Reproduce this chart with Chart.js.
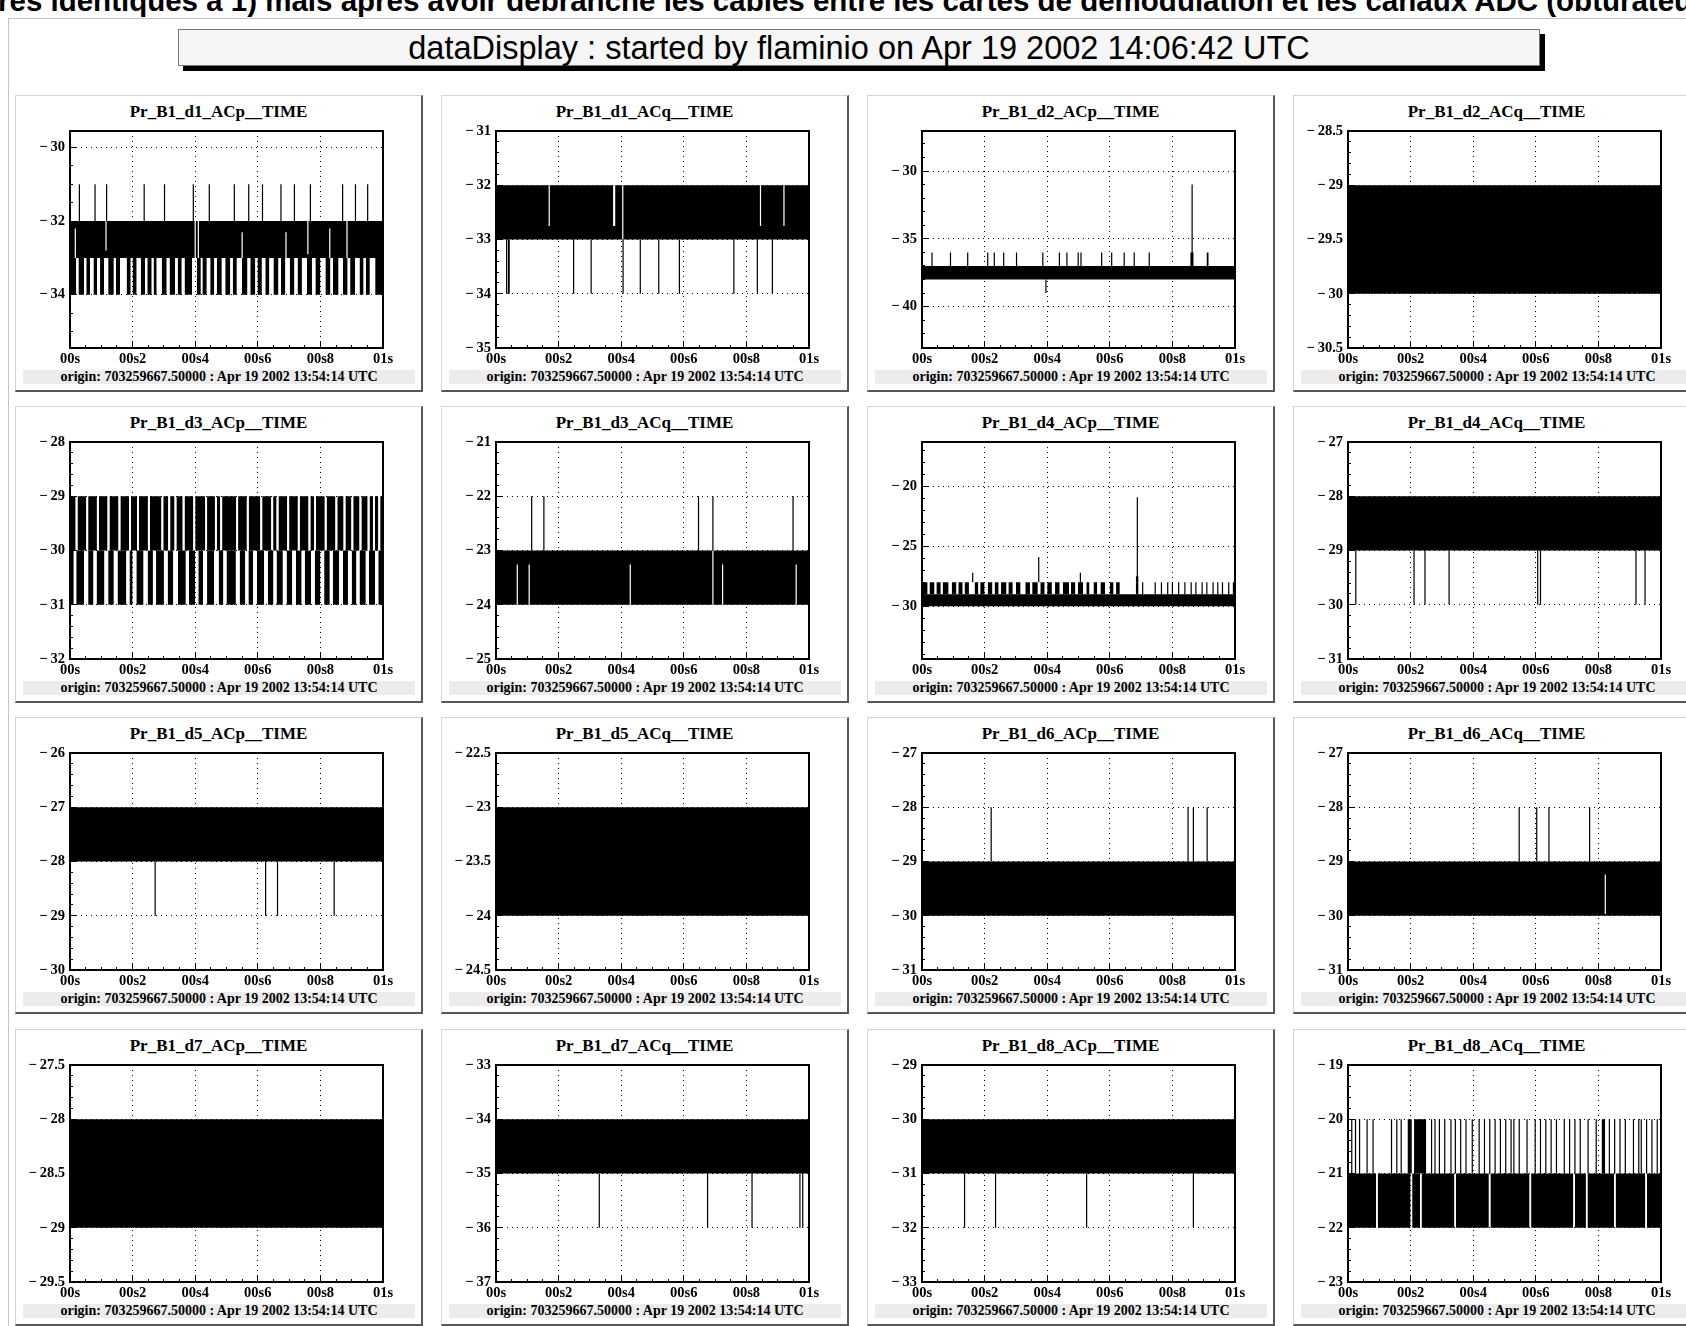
<!DOCTYPE html>
<html><head><meta charset="utf-8">
<script src="https://cdn.jsdelivr.net/npm/chart.js@4.4.1/dist/chart.umd.min.js"></script>
<style>
html,body{margin:0;padding:0;background:#fff;}
#page{position:relative;width:1686px;height:1326px;overflow:hidden;background:#fff;}
#toptext{position:absolute;left:-2px;top:-16px;white-space:nowrap;font:bold 29.5px "Liberation Sans",Arial,sans-serif;color:#000;}
#pageframe{position:absolute;left:8px;top:18px;width:1700px;height:1400px;border-left:1px solid #c4c4c4;border-top:1px solid #c4c4c4;}
#titlebox{position:absolute;left:178px;top:29px;width:1360px;height:35px;border:1px solid #777;background:#f6f6f6;box-shadow:5px 5px 0 #000;font:32.5px "Liberation Sans",Arial,sans-serif;text-align:center;line-height:36px;color:#000;}
.panel{position:absolute;box-sizing:border-box;width:408px;height:297px;border-left:1px solid #d4d4d4;border-top:1px solid #d4d4d4;border-right:2px solid #585858;border-bottom:2px solid #585858;background:#fff;}
.ptitle{position:absolute;left:0;top:6px;width:405px;text-align:center;font:bold 17px "Liberation Serif","Times New Roman",serif;color:#000;}
.panel canvas{position:absolute;left:0;top:29px;}
.footer{position:absolute;left:7px;top:274px;width:392px;height:14px;background:#ececec;font:bold 14px "Liberation Serif","Times New Roman",serif;text-align:center;line-height:14px;color:#000;white-space:nowrap;}
</style>
</head><body>
<div id="page">
  <div id="toptext"></div>
  <div id="pageframe"></div>
  <div id="titlebox"></div>
</div>
<script>
// ---------------- data ----------------
const topLine = 'res identiques à 1) mais après avoir débranché les câbles entre les cartes de démodulation et les canaux ADC (obturateur fermé)';
const headerText = 'dataDisplay : started by flaminio on Apr 19 2002 14:06:42 UTC';
const footerText = 'origin: 703259667.50000 : Apr 19 2002 13:54:14 UTC';

const panelTitles = ['Pr_B1_d1_ACp__TIME','Pr_B1_d1_ACq__TIME','Pr_B1_d2_ACp__TIME','Pr_B1_d2_ACq__TIME',
  'Pr_B1_d3_ACp__TIME','Pr_B1_d3_ACq__TIME','Pr_B1_d4_ACp__TIME','Pr_B1_d4_ACq__TIME',
  'Pr_B1_d5_ACp__TIME','Pr_B1_d5_ACq__TIME','Pr_B1_d6_ACp__TIME','Pr_B1_d6_ACq__TIME',
  'Pr_B1_d7_ACp__TIME','Pr_B1_d7_ACq__TIME','Pr_B1_d8_ACp__TIME','Pr_B1_d8_ACq__TIME'];

const xTickValues = [0, 0.2, 0.4, 0.6, 0.8, 1];
const xTickLabels = ['00s', '00s2', '00s4', '00s6', '00s8', '01s'];
const xMinorStep = 0.05;

const yMins = [-35.45, -35, -43.05, -30.5, -32, -25, -34.4, -31, -30, -24.5, -31, -31, -29.5, -37, -33, -23];
const yMaxs = [-29.55, -31, -27.05, -28.5, -28, -21, -16.3, -27, -26, -22.5, -27, -27, -27.5, -33, -29, -19];
const yMajorTicks = [
  [-34, -32, -30], [-35, -34, -33, -32, -31], [-40, -35, -30], [-30.5, -30, -29.5, -29, -28.5],
  [-32, -31, -30, -29, -28], [-25, -24, -23, -22, -21], [-30, -25, -20], [-31, -30, -29, -28, -27],
  [-30, -29, -28, -27, -26], [-24.5, -24, -23.5, -23, -22.5], [-31, -30, -29, -28, -27], [-31, -30, -29, -28, -27],
  [-29.5, -29, -28.5, -28, -27.5], [-37, -36, -35, -34, -33], [-33, -32, -31, -30, -29], [-23, -22, -21, -20, -19]];
const yMinorSteps = [0.5, 0.2, 1, 0.1, 0.2, 0.2, 1, 0.2, 0.2, 0.1, 0.2, 0.2, 0.1, 0.2, 0.2, 0.2];

// bands: [low, high, [[xStart, xEnd], ...]]  gaps (white) / spikes (black): [x, low, high]
const d1ACp_bands = [[-33, -32, [[0, 1]]],
  [-34, -33, [[0,0.02],[0.027,0.045],[0.052,0.064],[0.075,0.087],[0.096,0.109],[0.122,0.14],[0.147,0.16],[0.181,0.194],[0.2,0.213],[0.226,0.24],[0.247,0.261],[0.267,0.277],[0.293,0.309],[0.318,0.336],[0.344,0.357],[0.366,0.39],[0.405,0.418],[0.423,0.437],[0.448,0.461],[0.469,0.485],[0.496,0.512],[0.52,0.533],[0.549,0.567],[0.576,0.592],[0.599,0.613],[0.624,0.637],[0.65,0.666],[0.674,0.688],[0.702,0.717],[0.727,0.741],[0.757,0.773],[0.784,0.8],[0.816,0.832],[0.84,0.858],[0.872,0.887],[0.895,0.911],[0.925,0.938],[0.945,0.958],[0.975,1]]]];
const d1ACp_gaps = [[0.017,-33,-32.2],[0.115,-32.8,-32],[0.4,-33,-32],[0.41,-33,-32],[0.55,-33,-32.3],[0.69,-33,-32.3],[0.76,-32.9,-32],[0.83,-33,-32.2],[0.885,-33,-32]];
const d1ACp_spikes = [[0.030,-32,-31],[0.080,-32,-31],[0.117,-32,-31],[0.237,-32,-31],[0.302,-32,-31],[0.394,-32,-31],[0.445,-32,-31],[0.525,-32,-31],[0.571,-32,-31],[0.615,-32,-31],[0.674,-32,-31],[0.717,-32,-31],[0.768,-32,-31],[0.871,-32,-31],[0.912,-32,-31],[0.951,-32,-31]];

const d1ACq_bands = [[-33, -32, [[0, 1]]]];
const d1ACq_gaps = [[0.170,-32.75,-32],[0.376,-32.75,-32],[0.379,-32.75,-32],[0.405,-33,-32],[0.845,-32.75,-32],[0.920,-32.75,-32]];
const d1ACq_spikes = [[0.034,-34,-33],[0.040,-34,-33],[0.042,-34,-33],[0.248,-34,-33],[0.304,-34,-33],[0.406,-34,-33],[0.461,-34,-33],[0.520,-34,-33],[0.586,-34,-33],[0.760,-34,-33],[0.835,-34,-33],[0.883,-34,-33]];

const d2ACp_bands = [[-38, -37, [[0, 1]]], [-37, -36, [[0.857, 0.868], [0.909, 0.916]]]];
const d2ACp_gaps = [];
const d2ACp_spikes = [[0.032,-37,-36],[0.091,-37,-36],[0.146,-37,-36],[0.210,-37,-36],[0.231,-37,-36],[0.261,-37,-36],[0.302,-37,-36],[0.386,-37,-36],[0.396,-39,-38],[0.439,-37,-36],[0.463,-37,-36],[0.499,-37,-36],[0.508,-37,-36],[0.574,-37,-36],[0.606,-37,-36],[0.646,-37,-36],[0.678,-37,-36],[0.726,-37,-36],[0.863,-37,-31]];

const d2ACq_bands = [[-30, -29, [[0, 1]]]];
const d2ACq_gaps = [];
const d2ACq_spikes = [];

const d3ACp_bands = [
  [-30, -29, [[0,0.018],[0.024,0.052],[0.058,0.086],[0.092,0.12],[0.126,0.155],[0.161,0.189],[0.195,0.214],[0.22,0.249],[0.255,0.292],[0.298,0.314],[0.32,0.334],[0.34,0.36],[0.366,0.394],[0.4,0.432],[0.438,0.463],[0.469,0.48],[0.486,0.531],[0.537,0.565],[0.571,0.608],[0.614,0.643],[0.649,0.66],[0.666,0.694],[0.7,0.728],[0.734,0.762],[0.768,0.78],[0.786,0.814],[0.82,0.848],[0.854,0.874],[0.88,0.899],[0.905,0.925],[0.931,0.951],[0.957,0.968],[0.974,0.985],[0.991,1]]],
  [-31, -30, [[0,0.012],[0.02,0.045],[0.058,0.075],[0.085,0.11],[0.122,0.14],[0.152,0.18],[0.19,0.2],[0.212,0.235],[0.248,0.265],[0.275,0.3],[0.312,0.33],[0.345,0.37],[0.38,0.4],[0.41,0.425],[0.438,0.46],[0.475,0.49],[0.5,0.53],[0.542,0.56],[0.57,0.585],[0.597,0.62],[0.632,0.65],[0.66,0.68],[0.692,0.71],[0.722,0.74],[0.75,0.77],[0.782,0.8],[0.812,0.83],[0.84,0.86],[0.872,0.888],[0.9,0.915],[0.925,0.945],[0.955,0.975],[0.985,1]]]];
const d3ACp_gaps = [];
const d3ACp_spikes = [];

const d3ACq_bands = [[-24, -23, [[0, 1]]]];
const d3ACq_gaps = [[0.068,-24,-23.26],[0.106,-24,-23.26],[0.429,-24,-23.26],[0.693,-24,-23],[0.724,-24,-23.26],[0.959,-24,-23.26]];
const d3ACq_spikes = [[0.114,-23,-22],[0.153,-23,-22],[0.647,-23,-22],[0.693,-23,-22],[0.949,-23,-22]];

const d4ACp_bands = [[-30, -29, [[0, 1]]],
  [-29, -28, [[0,0.018],[0.024,0.04],[0.046,0.06],[0.066,0.085],[0.095,0.11],[0.116,0.13],[0.136,0.15],[0.168,0.18],[0.186,0.2],[0.21,0.225],[0.232,0.245],[0.252,0.27],[0.276,0.29],[0.3,0.315],[0.33,0.345],[0.352,0.37],[0.378,0.392],[0.4,0.415],[0.425,0.44],[0.45,0.47],[0.476,0.49],[0.498,0.515],[0.525,0.535],[0.548,0.56],[0.57,0.585],[0.6,0.612],[0.62,0.632],[0.683,0.692]]],
  [-28, -27.5, [[0.683, 0.692]]]];
const d4ACp_gaps = [];
const d4ACp_spikes = [[0.162,-28,-27.2],[0.373,-28,-25.9],[0.506,-28,-27.2],[0.688,-28,-20.9],
  [0.705,-29,-28],[0.745,-29,-28],[0.765,-29,-28],[0.785,-29,-28],[0.8,-29,-28],[0.82,-29,-28],[0.84,-29,-28],[0.86,-29,-28],[0.875,-29,-28],[0.895,-29,-28],[0.91,-29,-28],[0.93,-29,-28],[0.945,-29,-28],[0.96,-29,-28],[0.98,-29,-28],[0.995,-29,-28]];

const d4ACq_bands = [[-29, -28, [[0, 1]]]];
const d4ACq_gaps = [];
const d4ACq_spikes = [[0.025,-30,-29],[0.211,-30,-29],[0.246,-30,-29],[0.323,-30,-29],[0.606,-30,-29],[0.615,-30,-29],[0.920,-30,-29],[0.949,-30,-29]];

const d5ACp_bands = [[-28, -27, [[0, 1]]]];
const d5ACp_gaps = [];
const d5ACp_spikes = [[0.272,-29,-28],[0.625,-29,-28],[0.663,-29,-28],[0.844,-29,-28]];

const d5ACq_bands = [[-24, -23, [[0, 1]]]];
const d5ACq_gaps = [];
const d5ACq_spikes = [];

const d6ACp_bands = [[-30, -29, [[0, 1]]]];
const d6ACp_gaps = [];
const d6ACp_spikes = [[0.221,-29,-28],[0.850,-29,-28],[0.867,-29,-28],[0.911,-29,-28]];

const d6ACq_bands = [[-30, -29, [[0, 1]]]];
const d6ACq_gaps = [[0.822,-29.97,-29.24]];
const d6ACq_spikes = [[0.547,-29,-28],[0.603,-29,-28],[0.642,-29,-28],[0.772,-29,-28]];

const d7ACp_bands = [[-29, -28, [[0, 1]]]];
const d7ACp_gaps = [];
const d7ACp_spikes = [];

const d7ACq_bands = [[-35, -34, [[0, 1]]]];
const d7ACq_gaps = [];
const d7ACq_spikes = [[0.330,-36,-35],[0.676,-36,-35],[0.818,-36,-35],[0.971,-36,-35],[0.980,-36,-35]];

const d8ACp_bands = [[-31, -30, [[0, 1]]]];
const d8ACp_gaps = [];
const d8ACp_spikes = [[0.136,-32,-31],[0.235,-32,-31],[0.526,-32,-31],[0.867,-32,-31]];

const d8ACq_bands = [
  [-22, -21, [[0,0.09],[0.095,0.2],[0.205,0.23],[0.235,0.34],[0.345,0.45],[0.455,0.58],[0.585,0.72],[0.725,0.76],[0.765,0.85],[0.855,0.95],[0.955,1]]],
  [-21, -20, [[0.19,0.204],[0.211,0.25],[0.81,0.822]]]];
const d8ACq_gaps = [];
const d8ACq_spikes = [[0.012,-21,-20],[0.024,-21,-20],[0.037,-21,-20],[0.061,-21,-20],[0.080,-21,-20],[0.139,-21,-20],[0.156,-21,-20],[0.170,-21,-20],[0.267,-21,-20],[0.278,-21,-20],[0.292,-21,-20],[0.309,-21,-20],[0.329,-21,-20],[0.343,-21,-20],[0.360,-21,-20],[0.377,-21,-20],[0.397,-21,-20],[0.419,-21,-20],[0.436,-21,-20],[0.453,-21,-20],[0.470,-21,-20],[0.487,-21,-20],[0.504,-21,-20],[0.521,-21,-20],[0.530,-21,-20],[0.547,-21,-20],[0.572,-21,-20],[0.598,-21,-20],[0.615,-21,-20],[0.632,-21,-20],[0.649,-21,-20],[0.666,-21,-20],[0.691,-21,-20],[0.708,-21,-20],[0.725,-21,-20],[0.742,-21,-20],[0.767,-21,-20],[0.793,-21,-20],[0.835,-21,-20],[0.852,-21,-20],[0.869,-21,-20],[0.886,-21,-20],[0.912,-21,-20],[0.929,-21,-20],[0.937,-21,-20],[0.954,-21,-20],[0.971,-21,-20],[0.988,-21,-20]];

const panelBands = [d1ACp_bands,d1ACq_bands,d2ACp_bands,d2ACq_bands,d3ACp_bands,d3ACq_bands,d4ACp_bands,d4ACq_bands,d5ACp_bands,d5ACq_bands,d6ACp_bands,d6ACq_bands,d7ACp_bands,d7ACq_bands,d8ACp_bands,d8ACq_bands];
const panelGaps = [d1ACp_gaps,d1ACq_gaps,d2ACp_gaps,d2ACq_gaps,d3ACp_gaps,d3ACq_gaps,d4ACp_gaps,d4ACq_gaps,d5ACp_gaps,d5ACq_gaps,d6ACp_gaps,d6ACq_gaps,d7ACp_gaps,d7ACq_gaps,d8ACp_gaps,d8ACq_gaps];
const panelSpikes = [d1ACp_spikes,d1ACq_spikes,d2ACp_spikes,d2ACq_spikes,d3ACp_spikes,d3ACq_spikes,d4ACp_spikes,d4ACq_spikes,d5ACp_spikes,d5ACq_spikes,d6ACp_spikes,d6ACq_spikes,d7ACp_spikes,d7ACq_spikes,d8ACp_spikes,d8ACq_spikes];

// ---------------- layout ----------------
const colX = [15, 441, 867, 1293];
const rowY = [95, 406, 717, 1029];

document.getElementById('toptext').textContent = topLine;
document.getElementById('titlebox').textContent = headerText;

const TF = {family: '"Liberation Serif", "Times New Roman", serif', weight: 'bold', size: 14.5};
const near = (a, b) => Math.abs(a - b) < 1e-6;
const fmtY = v => (v < 0 ? '\u2212\u2009' : '') + String(Math.abs(Math.round(v * 1000) / 1000));

function minorTicks(min, max, step) {
  const out = [];
  for (let k = Math.ceil(min / step - 1e-9); k * step <= max + 1e-9; k++) out.push(Math.round(k * step * 1e6) / 1e6);
  return out;
}

function bandDataset(band) {
  const [lo, hi, segs] = band;
  const data = [];
  segs.forEach(([a, b], k) => {
    if (k) data.push({x: a, y: null});
    data.push({x: a, y: hi}, {x: b, y: hi});
  });
  return {data, fill: {value: lo}, backgroundColor: '#000', borderWidth: 0, pointRadius: 0, order: 3, xAxisID: 'x', yAxisID: 'y', spanGaps: false};
}
function lineDataset(list, color, order) {
  const data = [];
  list.slice().sort((p, q) => p[0] - q[0]).forEach(([x, lo, hi]) => { data.push({x, y: lo}, {x, y: hi}, {x, y: null}); });
  return {data, borderColor: color, borderWidth: 1.2, pointRadius: 0, fill: false, order, xAxisID: 'x', yAxisID: 'y', spanGaps: false};
}

const page = document.getElementById('page');
panelTitles.forEach((title, i) => {
  const col = i % 4, row = Math.floor(i / 4);
  const div = document.createElement('div');
  div.className = 'panel';
  div.style.left = colX[col] + 'px';
  div.style.top = rowY[row] + 'px';
  const t = document.createElement('div'); t.className = 'ptitle'; t.textContent = title; div.appendChild(t);
  const cv = document.createElement('canvas'); cv.width = 405; cv.height = 243; cv.style.width = '405px'; cv.style.height = '243px'; div.appendChild(cv);
  const f = document.createElement('div'); f.className = 'footer'; f.textContent = footerText; div.appendChild(f);
  page.appendChild(div);

  const ymin = yMins[i], ymax = yMaxs[i], majors = yMajorTicks[i];
  const yAll = minorTicks(ymin, ymax, yMinorSteps[i]);
  majors.forEach(m => { if (!yAll.some(v => near(v, m))) yAll.push(m); });
  yAll.sort((a, b) => a - b);
  const isMajorY = v => majors.some(m => near(m, v));
  const xAll = minorTicks(0, 1, xMinorStep);
  const isMajorX = v => xTickValues.some(m => near(m, v));

  const datasets = [];
  panelBands[i].forEach(b => datasets.push(bandDataset(b)));
  if (panelGaps[i].length) datasets.push(lineDataset(panelGaps[i], '#fff', 2));
  if (panelSpikes[i].length) datasets.push(lineDataset(panelSpikes[i], '#000', 1));

  new Chart(cv, {
    type: 'line',
    data: {datasets},
    options: {
      responsive: false, animation: false, devicePixelRatio: 1, events: [],
      layout: {padding: {top: 6, right: 38, left: 0, bottom: 0}},
      plugins: {legend: {display: false}, tooltip: {enabled: false}, title: {display: false}},
      scales: {
        x: {
          type: 'linear', min: 0, max: 1, position: 'bottom',
          afterBuildTicks: ax => { ax.ticks = xAll.map(v => ({value: v})); },
          afterFit: ax => { ax.height = 20; ax.paddingLeft = 0; ax.paddingRight = 0; },
          ticks: {autoSkip: false, maxRotation: 0, padding: 10, color: '#000', font: TF,
            callback: v => { const k = xTickValues.findIndex(m => near(m, v)); return k >= 0 ? xTickLabels[k] : ''; }},
          grid: {
            color: c => (c.tick && isMajorX(c.tick.value) && c.tick.value > 0.001 && c.tick.value < 0.999) ? '#000' : 'rgba(0,0,0,0)',
            lineWidth: 1, tickLength: -7, tickColor: '#000', tickWidth: 1,
            tickBorderDash: c => (c.tick && isMajorX(c.tick.value)) ? [] : [4, 100]
          },
          border: {display: true, color: '#000', width: 2, dash: [1, 4]}
        },
        y: {
          type: 'linear', min: ymin, max: ymax, position: 'left',
          afterBuildTicks: ax => { ax.ticks = yAll.map(v => ({value: v})); },
          afterFit: ax => { ax.width = 54; ax.paddingTop = 0; ax.paddingBottom = 0; },
          ticks: {autoSkip: false, padding: 12, color: '#000', font: TF,
            callback: v => isMajorY(v) ? fmtY(v) : ''},
          grid: {
            color: c => (c.tick && isMajorY(c.tick.value) && c.tick.value > ymin + 1e-6 && c.tick.value < ymax - 1e-6) ? '#000' : 'rgba(0,0,0,0)',
            lineWidth: 1, tickLength: -7, tickColor: '#000', tickWidth: 1,
            tickBorderDash: c => (c.tick && isMajorY(c.tick.value)) ? [] : [0, 4, 5, 100]
          },
          border: {display: true, color: '#000', width: 2, dash: [1, 4]}
        },
        xTop: {
          type: 'linear', min: 0, max: 1, position: 'top',
          afterFit: ax => { ax.height = 0; ax.paddingLeft = 0; ax.paddingRight = 0; },
          ticks: {display: false}, grid: {display: false, drawTicks: false},
          border: {display: true, color: '#000', width: 2}
        },
        yRight: {
          type: 'linear', min: 0, max: 1, position: 'right',
          afterFit: ax => { ax.width = 0; ax.paddingTop = 0; ax.paddingBottom = 0; },
          ticks: {display: false}, grid: {display: false, drawTicks: false},
          border: {display: true, color: '#000', width: 2}
        }
      }
    }
  });
});
</script>
</body></html>
